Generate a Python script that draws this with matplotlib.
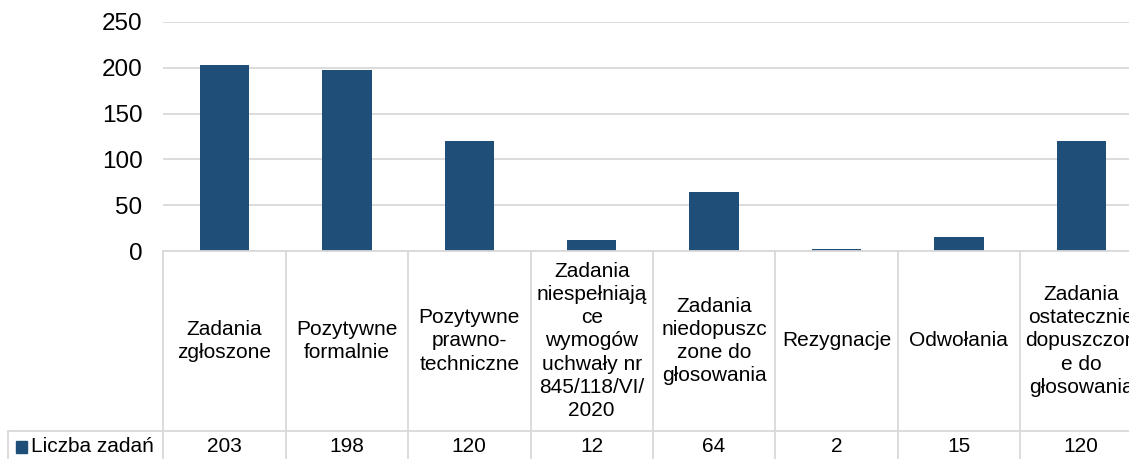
import matplotlib.pyplot as plt
from matplotlib.patches import Rectangle

plt.rcParams['font.family'] = ['Liberation Sans', 'DejaVu Sans']
plt.rcParams['font.size'] = 15

# data for the chart and the table underneath
categories = [
    'Zadania\nzgłoszone',
    'Pozytywne\nformalnie',
    'Pozytywne\nprawno-\ntechniczne',
    'Zadania\nniespełniają\nce\nwymogów\nuchwały nr\n845/118/VI/\n2020',
    'Zadania\nniedopuszc\nzone do\ngłosowania',
    'Rezygnacje',
    'Odwołania',
    'Zadania\nostatecznie\ndopuszczon\ne do\ngłosowania',
]
liczba_zadan = [203, 198, 120, 12, 64, 2, 15, 120]
series_name = 'Liczba zadań'
y_ticks = [0, 50, 100, 150, 200, 250]

bar_color = '#1f4e79'
grid_color = '#d9d9d9'
fs_table = 15
fs_ticks = 17.5

W, H = 1129, 459
fig = plt.figure(figsize=(W / 100, H / 100), dpi=100)

# plot area runs past the right edge, so the last column gets cut off
x0, x1 = 163.3, 163.3 + 8 * 122.4
y_top, y_zero = 22, 251
ax = fig.add_axes([x0 / W, (H - y_zero) / H, (x1 - x0) / W, (y_zero - y_top) / H])

n = len(categories)
xs = list(range(n))
ax.bar(xs, liczba_zadan, width=0.403, color=bar_color, zorder=3)
ax.set_xlim(-0.5, n - 0.5)
ax.set_ylim(0, 250)
ax.set_yticks(y_ticks)
ax.set_xticks([])
ax.tick_params(axis='y', length=0, pad=15, labelsize=fs_ticks)
ax.grid(axis='y', color=grid_color, linewidth=1.3, zorder=0)
for s in ax.spines.values():
    s.set_visible(False)

# data table below the bars
tab_bottom = 461
tab = fig.add_axes([x0 / W, (H - tab_bottom) / H, (x1 - x0) / W, (tab_bottom - y_zero) / H])
tab.set_xlim(-0.5, n - 0.5)
tab.set_ylim(tab_bottom - y_zero, 0)
tab.axis('off')

row_split = 431 - y_zero
row_end = tab_bottom - y_zero
lw = 1.3
for i in range(n + 1):
    tab.plot([i - 0.5, i - 0.5], [0, row_end], color=grid_color, lw=lw, clip_on=False)
tab.plot([-0.5, n - 0.5], [0, 0], color=grid_color, lw=lw, clip_on=False)

leg_left = -0.5 - (x0 - 8) / 122.4
tab.plot([leg_left, n - 0.5], [row_split, row_split], color=grid_color, lw=lw, clip_on=False)
tab.plot([leg_left, leg_left], [row_split, row_end], color=grid_color, lw=lw, clip_on=False)

for i, (cat, v) in enumerate(zip(categories, liczba_zadan)):
    tab.text(i, row_split / 2, cat, ha='center', va='center', fontsize=fs_table,
             linespacing=1.28, clip_on=False)
    tab.text(i, (row_split + row_end) / 2, str(v), ha='center', va='center',
             fontsize=fs_table, clip_on=False)

# legend key in the first cell of the value row
px = 1 / 122.4
tab.add_patch(Rectangle((leg_left + 8 * px, 440.7 - y_zero), 10.7 * px, 12,
                        color=bar_color, clip_on=False))
tab.text(leg_left + 23 * px, (row_split + row_end) / 2, series_name,
         ha='left', va='center', fontsize=fs_table, clip_on=False)

fig.savefig('out.png', dpi=100)
